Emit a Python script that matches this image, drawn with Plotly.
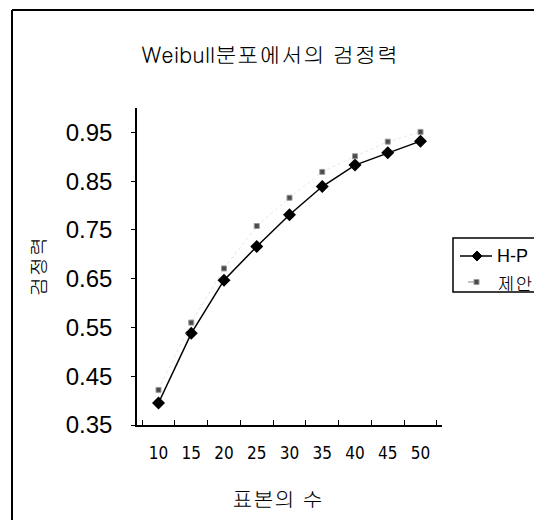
import plotly.graph_objects as go

# Sample sizes and power estimates
sample_sizes = ["10", "15", "20", "25", "30", "35", "40", "45", "50"]
power_hp = [0.395, 0.538, 0.647, 0.716, 0.781, 0.839, 0.883, 0.908, 0.932]
power_proposed = [0.422, 0.560, 0.671, 0.758, 0.816, 0.869, 0.901, 0.931, 0.951]
y_ticks = [0.35, 0.45, 0.55, 0.65, 0.75, 0.85, 0.95]
series_names = ["H-P", "제안"]

W, H = 534, 520
ML, MR, MT, MB = 137, 92, 108, 95
PW, PH = W - ML - MR, H - MT - MB

KFONT = "Gulim, Noto Sans CJK KR, Liberation Sans, sans-serif"


def px_x(px):
    return (px - ML) / PW


def px_y(py):
    return (H - MB - py) / PH


fig = go.Figure()
fig.add_trace(go.Scatter(
    x=sample_sizes, y=power_hp, name=series_names[0], mode="lines+markers",
    line=dict(color="black", width=1.5),
    marker=dict(symbol="diamond", size=10, color="black"),
    showlegend=False,
))
fig.add_trace(go.Scatter(
    x=sample_sizes, y=power_proposed, name=series_names[1], mode="lines+markers",
    line=dict(color="#e6e6e6", width=1, dash="dot"),
    marker=dict(symbol="square", size=5, color="#4a4a4a",
                line=dict(color="#9a9a9a", width=1)),
    showlegend=False,
))

# Outer chart frame (top and left edges) and a boxed legend at the right
shapes = [
    dict(type="line", xref="paper", yref="paper",
         x0=px_x(12), x1=px_x(W + 40), y0=px_y(10), y1=px_y(10),
         line=dict(color="black", width=2)),
    dict(type="line", xref="paper", yref="paper",
         x0=px_x(12), x1=px_x(12), y0=px_y(10), y1=px_y(H + 40),
         line=dict(color="black", width=2)),
    dict(type="rect", xref="paper", yref="paper",
         x0=px_x(453), x1=px_x(W + 40), y0=px_y(292), y1=px_y(238),
         line=dict(color="black", width=1.5), fillcolor="white"),
    dict(type="line", xref="paper", yref="paper",
         x0=px_x(460), x1=px_x(492), y0=px_y(256), y1=px_y(256),
         line=dict(color="black", width=1.5)),
    dict(type="path", xref="paper", yref="paper",
         path=(f"M {px_x(472)},{px_y(256)} L {px_x(477)},{px_y(251)} "
               f"L {px_x(482)},{px_y(256)} L {px_x(477)},{px_y(261)} Z"),
         line=dict(color="black", width=1), fillcolor="black"),
    dict(type="line", xref="paper", yref="paper",
         x0=px_x(468), x1=px_x(474), y0=px_y(282), y1=px_y(282),
         line=dict(color="#888888", width=1)),
    dict(type="rect", xref="paper", yref="paper",
         x0=px_x(474), x1=px_x(479), y0=px_y(284.5), y1=px_y(279.5),
         line=dict(color="#9a9a9a", width=1), fillcolor="#4a4a4a"),
]

annotations = [
    dict(text=series_names[0], xref="paper", yref="paper", x=px_x(495), y=px_y(256),
         xanchor="left", yanchor="middle", showarrow=False,
         font=dict(size=18, family="Liberation Sans", color="black")),
    dict(text=series_names[1], xref="paper", yref="paper", x=px_x(495), y=px_y(282),
         xanchor="left", yanchor="middle", showarrow=False,
         font=dict(size=18, family=KFONT, color="black")),
    # x-axis title
    dict(text="표본의 수", xref="paper", yref="paper", x=px_x(277), y=px_y(498),
         xanchor="center", yanchor="middle", showarrow=False,
         font=dict(size=21, family=KFONT, color="black")),
]

fig.update_layout(
    width=W, height=H,
    margin=dict(l=ML, r=MR, t=MT, b=MB, pad=0),
    paper_bgcolor="white", plot_bgcolor="white",
    font=dict(family=KFONT, color="black"),
    title=dict(text="Weibull분포에서의 검정력", x=px_x(270), xref="paper",
               xanchor="center", y=1 - 55 / H, yanchor="middle",
               font=dict(size=22, family=KFONT, color="black")),
    showlegend=False,
    xaxis=dict(
        type="category", tickson="boundaries", ticks="inside", ticklen=5,
        tickcolor="black", showline=True, linecolor="black", linewidth=1.5,
        showgrid=False, zeroline=False, ticklabelstandoff=12,
        tickfont=dict(size=17, color="black",
                      family="Liberation Sans Narrow, DejaVu Sans Condensed, Liberation Sans"),
    ),
    yaxis=dict(
        range=[0.35, 1.0], tickvals=y_ticks, ticktext=[f"{v:.2f}" for v in y_ticks],
        ticks="outside", ticklen=4, tickcolor="black",
        showline=True, linecolor="black", linewidth=1.5,
        showgrid=False, zeroline=False, ticklabelstandoff=14,
        tickfont=dict(size=24, family="Liberation Sans", color="black"),
        title=dict(text="검정력", standoff=14,
                   font=dict(size=20, family=KFONT, color="black")),
    ),
    shapes=shapes,
    annotations=annotations,
)

fig.write_html("out.html")
